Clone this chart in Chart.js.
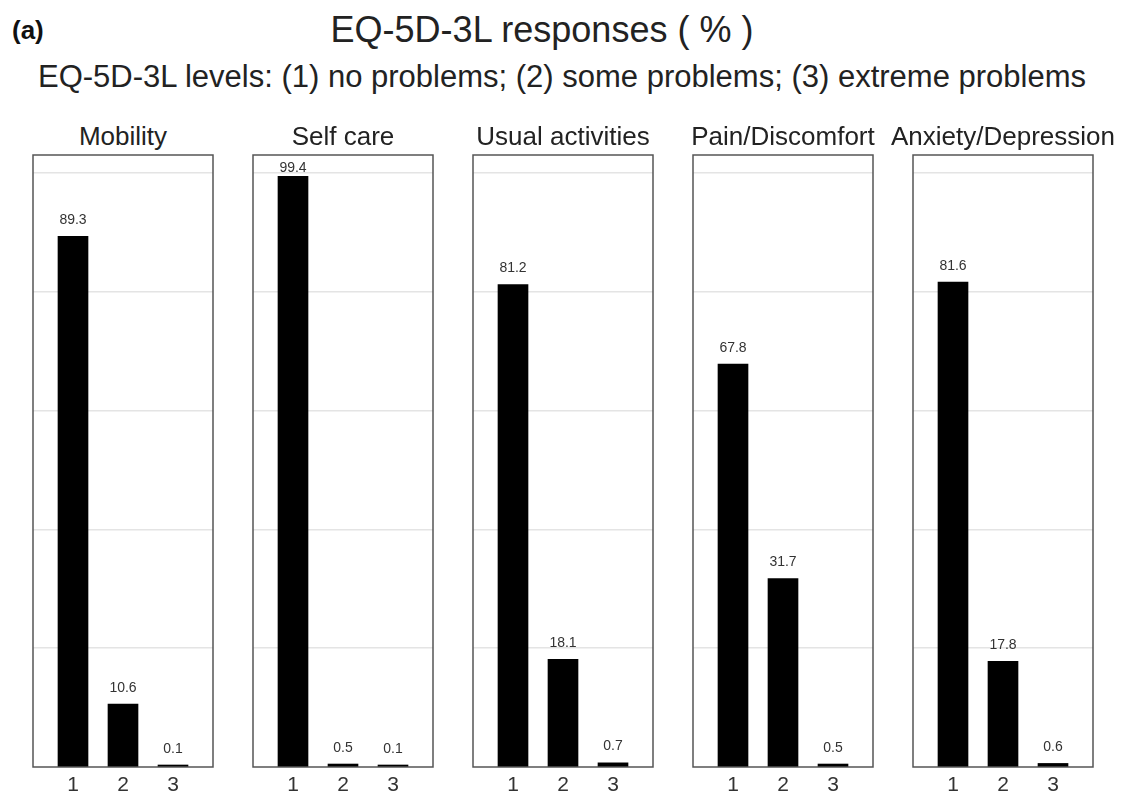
<!DOCTYPE html>
<html>
<head>
<meta charset="utf-8">
<title>EQ-5D-3L responses</title>
<script src="https://cdn.jsdelivr.net/npm/chart.js@4.4.1/dist/chart.umd.min.js"></script>
<style>
  html, body { margin: 0; padding: 0; background: #fff; }
  body {
    width: 1123px; height: 797px; position: relative; overflow: hidden;
    font-family: "Liberation Sans", Arial, Helvetica, sans-serif; color: #222;
  }
  .txt { position: absolute; white-space: nowrap; line-height: 1; }
  #tag { left: 12px; top: 17px; font-size: 26px; font-weight: bold; color: #111; }
  #title { left: 0; width: 1084px; text-align: center; top: 12px; font-size: 36px; }
  #subtitle { left: 0; width: 1124px; text-align: center; top: 61px; font-size: 31px; }
  .panel-title { top: 123px; font-size: 26px; text-align: center; color: #222; }
  canvas.panel { position: absolute; top: 110px; }
</style>
</head>
<body>
<div class="txt" id="tag">(a)</div>
<div class="txt" id="title">EQ-5D-3L responses ( % )</div>
<div class="txt" id="subtitle">EQ-5D-3L levels: (1) no problems; (2) some problems; (3) extreme problems</div>

<script>
// EQ-5D-3L dimensions and the share of responses (%) at each level
const dimensions = ['Mobility', 'Self care', 'Usual activities', 'Pain/Discomfort', 'Anxiety/Depression'];
const levels = [1, 2, 3];
const mobility = [89.3, 10.6, 0.1];
const selfCare = [99.4, 0.5, 0.1];
const usualActivities = [81.2, 18.1, 0.7];
const painDiscomfort = [67.8, 31.7, 0.5];
const anxietyDepression = [81.6, 17.8, 0.6];
const gridValues = [20, 40, 60, 80, 100];

const seriesByDimension = [mobility, selfCare, usualActivities, painDiscomfort, anxietyDepression];

const FONT = '"Liberation Sans", Arial, Helvetica, sans-serif';

// Panel frame drawn around the plotting area
const framePlugin = {
  id: 'panelFrame',
  afterDatasetsDraw(chart) {
    const { ctx, chartArea: a } = chart;
    ctx.save();
    ctx.strokeStyle = '#555';
    ctx.lineWidth = 1.5;
    ctx.strokeRect(a.left, a.top, a.right - a.left, a.bottom - a.top);
    ctx.restore();
  }
};

// Value labels above each bar
const valueLabelPlugin = {
  id: 'valueLabels',
  afterDatasetsDraw(chart) {
    const { ctx, chartArea: a } = chart;
    const meta = chart.getDatasetMeta(0);
    const ds = chart.data.datasets[0];
    ctx.save();
    ctx.font = '14px ' + FONT;
    ctx.fillStyle = '#333';
    ctx.textAlign = 'center';
    ctx.textBaseline = 'alphabetic';
    meta.data.forEach((bar, i) => {
      const v = ds.data[i].y;
      const y = Math.max(bar.y - 12.5, a.top + 17);
      ctx.fillText(v.toFixed(1), bar.x, y);
    });
    ctx.restore();
  }
};

const boxLeft0 = 33, boxStep = 220, boxWidth = 180, side = 40;

dimensions.forEach((name, p) => {
  const boxLeft = boxLeft0 + p * boxStep;

  // panel heading, centred over its frame
  const head = document.createElement('div');
  head.className = 'txt panel-title';
  head.textContent = name;
  head.style.left = (boxLeft - side) + 'px';
  head.style.width = (boxWidth + side * 2) + 'px';
  document.body.appendChild(head);

  const canvas = document.createElement('canvas');
  canvas.className = 'panel';
  const w = boxWidth + side * 2, h = 687;
  canvas.width = w; canvas.height = h;
  canvas.style.width = w + 'px'; canvas.style.height = h + 'px';
  canvas.style.left = (boxLeft - side) + 'px';
  document.body.appendChild(canvas);

  const values = seriesByDimension[p];

  new Chart(canvas.getContext('2d'), {
    type: 'bar',
    data: {
      datasets: [{
        data: levels.map((lv, i) => ({ x: lv, y: values[i] })),
        backgroundColor: '#000',
        borderWidth: 0,
        barThickness: 30,
        minBarLength: 2
      }]
    },
    options: {
      responsive: false,
      animation: false,
      devicePixelRatio: 1,
      layout: { padding: { left: side, right: side, top: 45, bottom: 0 } },
      plugins: {
        legend: { display: false },
        tooltip: { enabled: false },
        title: { display: false }
      },
      scales: {
        x: {
          type: 'linear',
          min: 0.2,
          max: 3.8,
          offset: false,
          afterBuildTicks: s => { s.ticks = levels.map(v => ({ value: v })); },
          afterFit: s => { s.height = 30; },
          grid: { display: false, drawTicks: false },
          border: { display: false },
          ticks: {
            padding: 6,
            color: '#333',
            font: { family: FONT, size: 21 },
            maxRotation: 0,
            autoSkip: false
          }
        },
        y: {
          min: 0,
          max: 103,
          afterBuildTicks: s => { s.ticks = gridValues.map(v => ({ value: v })); },
          afterFit: s => { s.width = 0; },
          grid: { color: '#e4e4e4', lineWidth: 1.5, drawTicks: false },
          border: { display: false },
          ticks: { display: false }
        }
      }
    },
    plugins: [framePlugin, valueLabelPlugin]
  });
});
</script>
</body>
</html>
